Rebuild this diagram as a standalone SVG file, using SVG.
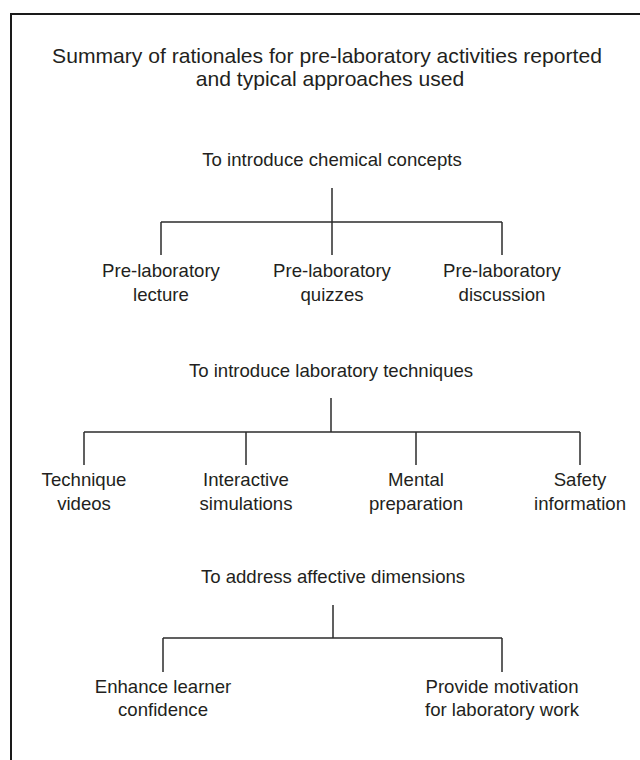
<svg xmlns="http://www.w3.org/2000/svg" width="640" height="760" viewBox="0 0 640 760">
  <style>
    text { font-family: "Liberation Sans", Arial, sans-serif; fill: #231f20; text-anchor: middle; }
    .title { font-size: 21.1px; }
    .head { font-size: 18.6px; }
    .leaf { font-size: 18.6px; }
    .conn line { stroke: #2b2b2b; stroke-width: 1.5; fill: none; }
    .frame { stroke: #1a1a1a; stroke-width: 2; fill: none; }
  </style>
  <rect width="640" height="760" fill="#ffffff"/>
  <g id="frame">
    <line class="frame" x1="10" y1="14" x2="640" y2="14"/>
    <line class="frame" x1="11" y1="13" x2="11" y2="760" stroke="#3a3a3a"/>
  </g>
  <g id="title">
    <text class="title" x="327" y="63">Summary of rationales for pre-laboratory activities reported</text>
    <text class="title" x="330" y="86">and typical approaches used</text>
  </g>

  <g id="connectors" class="conn">
    <line x1="332" y1="188" x2="332" y2="222"/>
    <line x1="161" y1="222" x2="502" y2="222"/>
    <line x1="161" y1="222" x2="161" y2="255"/>
    <line x1="332" y1="222" x2="332" y2="255"/>
    <line x1="502" y1="222" x2="502" y2="255"/>

    <line x1="331" y1="398" x2="331" y2="432"/>
    <line x1="84" y1="432" x2="580" y2="432"/>
    <line x1="84" y1="432" x2="84" y2="465"/>
    <line x1="246" y1="432" x2="246" y2="465"/>
    <line x1="416" y1="432" x2="416" y2="465"/>
    <line x1="580" y1="432" x2="580" y2="465"/>

    <line x1="333" y1="605" x2="333" y2="638"/>
    <line x1="163" y1="638" x2="502" y2="638"/>
    <line x1="163" y1="638" x2="163" y2="672"/>
    <line x1="502" y1="638" x2="502" y2="672"/>
  </g>

  <g id="chem-concepts"><text class="head" x="332" y="166">To introduce chemical concepts</text></g>
  <g id="prelab-lecture"><text class="leaf" x="161" y="277">Pre-laboratory</text><text class="leaf" x="161" y="301">lecture</text></g>
  <g id="prelab-quizzes"><text class="leaf" x="332" y="277">Pre-laboratory</text><text class="leaf" x="332" y="301">quizzes</text></g>
  <g id="prelab-discussion"><text class="leaf" x="502" y="277">Pre-laboratory</text><text class="leaf" x="502" y="301">discussion</text></g>

  <g id="lab-techniques"><text class="head" x="331" y="377">To introduce laboratory techniques</text></g>
  <g id="technique-videos"><text class="leaf" x="84" y="486">Technique</text><text class="leaf" x="84" y="510">videos</text></g>
  <g id="interactive-sims"><text class="leaf" x="246" y="486">Interactive</text><text class="leaf" x="246" y="510">simulations</text></g>
  <g id="mental-prep"><text class="leaf" x="416" y="486">Mental</text><text class="leaf" x="416" y="510">preparation</text></g>
  <g id="safety-info"><text class="leaf" x="580" y="486">Safety</text><text class="leaf" x="580" y="510">information</text></g>

  <g id="affective"><text class="head" x="333" y="583">To address affective dimensions</text></g>
  <g id="learner-confidence"><text class="leaf" x="163" y="693">Enhance learner</text><text class="leaf" x="163" y="716">confidence</text></g>
  <g id="motivation"><text class="leaf" x="502" y="693">Provide motivation</text><text class="leaf" x="502" y="716">for laboratory work</text></g>
</svg>
